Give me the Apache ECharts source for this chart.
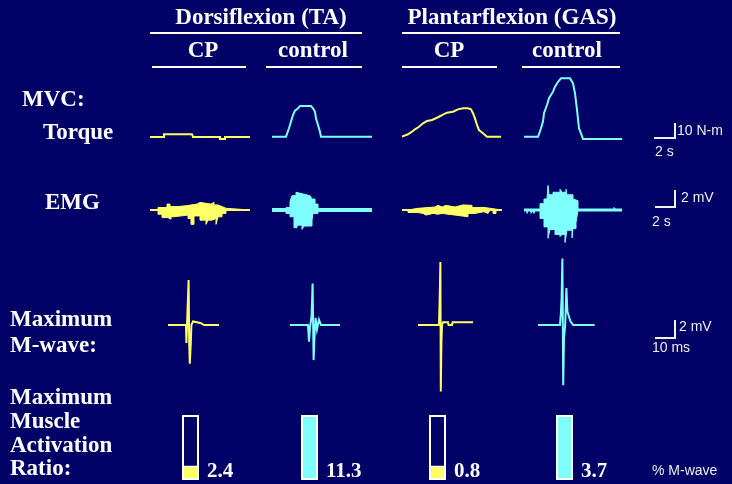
<!DOCTYPE html>
<html>
<head>
  <meta charset="utf-8">
  <title>MVC torque, EMG and M-wave</title>
  <script src="https://cdn.jsdelivr.net/npm/echarts@6/dist/echarts.min.js"></script>
  <style>html, body { margin: 0; padding: 0; background: #000066; }</style>
</head>
<body>
  <div id="main" style="width: 732px;height:484px;"></div>
  <script type="text/javascript">
    // column order: TA CP, TA control, GAS CP, GAS control
    var groups = ['Dorsiflexion (TA)', 'Plantarflexion (GAS)'];
    var subjects = ['CP', 'control', 'CP', 'control'];
    var colours = ['#ffff66', '#80ffff', '#ffff66', '#80ffff'];

    // MVC torque traces [s, N-m]
    var torqueTaCp = [[0,0.7],[1.4,0.7],[1.4,2.5],[4.2,2.5],[4.3,0.7],[7.0,0.7],[7.0,-0.7],[7.5,-0.7],[7.5,0.7],[10,0.7]];
    var torqueTaControl = [[0,0.9],[1.4,0.9],[1.5,2.7],[1.7,6.5],[1.9,10.9],[2.1,15.3],[2.3,18.2],[2.6,19.8],[2.8,21.3],[3.9,21.3],[4.1,19.8],[4.3,17.5],[4.4,13.1],[4.6,8.7],[4.8,4.2],[4.9,0.9],[10,0.9]];
    var torqueGasCp = [[0,0.9],[0.6,2.5],[1.0,4.2],[1.3,5.8],[1.7,7.5],[2.1,9.8],[2.5,11.3],[3.0,12.0],[3.5,13.5],[4.0,15.3],[4.5,16.9],[5.1,17.5],[5.6,19.1],[6.1,19.8],[6.6,19.8],[6.9,19.1],[7.1,16.5],[7.3,13.1],[7.5,8.7],[7.7,5.3],[8.1,3.1],[8.5,0.9],[9.9,0.9]];
    var torqueGasControl = [[0,0.9],[1.4,0.9],[1.5,2.5],[1.7,6.5],[1.9,10.9],[2.0,16.5],[2.3,22.0],[2.5,26.5],[2.9,30.9],[3.1,34.2],[3.4,37.5],[3.7,39.8],[4.6,39.8],[4.9,36.5],[5.1,29.8],[5.3,18.7],[5.5,6.5],[5.7,3.1],[5.9,-0.7],[9.8,-0.7]];

    // MVC EMG envelopes [s, mV], upper and lower edge
    var emgTaCpUp = [[0,0],[0.8,0.3],[1.7,0.7],[2.0,0.4],[2.7,0.5],[3.6,0.7],[4.7,0.9],[5.0,0.7],[6.1,0.9],[6.4,0.6],[6.8,0.4],[7.2,0.2],[7.6,0],[10,0]];
    var emgTaCpLow = [[0,0],[0.8,-0.5],[1.2,-0.9],[1.8,-1.1],[2.1,-0.8],[2.4,-0.6],[3.8,-1.0],[4.1,-1.7],[4.4,-0.7],[5.0,-1.2],[5.6,-1.7],[5.8,-1.2],[6.2,-1.0],[6.6,-1.7],[6.8,-0.8],[7.2,-0.4],[7.6,0],[10,0]];
    var emgTaControlUp = [[0,0],[1.4,0.3],[1.8,1.0],[2.0,1.7],[2.4,2.1],[2.6,1.9],[3.1,1.7],[3.8,1.9],[4.0,1.3],[4.3,0.7],[4.6,0],[10,0]];
    var emgTaControlLow = [[0,0],[1.4,-0.4],[1.8,-0.8],[2.2,-2.1],[2.5,-1.8],[3.0,-2.3],[3.2,-1.9],[4.0,-1.2],[4.1,-0.4],[4.6,0],[10,0]];
    var emgGasCpUp = [[0,0],[0.6,0.2],[1.6,0.35],[3.3,0.55],[3.6,0.35],[4.0,0.55],[4.4,0.35],[5.3,0.55],[5.5,0.6],[6.1,0.75],[6.3,0.55],[7.0,0.3],[8.2,0.2],[8.8,0],[10,0]];
    var emgGasCpLow = [[0,0],[0.6,-0.3],[1.6,-0.4],[2.1,-0.6],[2.4,-0.4],[3.1,-0.5],[3.6,-0.4],[4.0,-0.6],[5.3,-0.8],[6.6,-0.4],[7.3,-0.2],[8.2,-0.4],[8.6,-0.2],[8.8,0],[9.1,-0.4],[9.4,0],[10,0]];
    var emgGasControlUp = [[0,0],[1.6,0.75],[2.0,1.3],[2.3,1.5],[2.4,2.9],[2.5,1.8],[2.9,2.1],[3.6,2.45],[3.8,2.1],[4.2,2.45],[4.3,1.8],[4.9,1.3],[5.1,1.1],[5.4,0],[9.0,0.3],[9.2,0],[9.8,0]];
    var emgGasControlLow = [[0,0],[0.3,-0.4],[0.4,0],[0.7,-0.4],[0.8,0],[1.0,-0.4],[1.1,0],[1.6,-1.0],[2.0,-2.0],[2.4,-3.35],[2.6,-2.3],[3.1,-2.9],[3.6,-3.15],[3.8,-2.9],[4.1,-3.85],[4.3,-2.4],[4.8,-3.3],[4.9,-2.2],[5.2,-1.5],[5.4,0],[9.8,0]];

    // maximum M-wave [ms, mV]
    var mwaveTaCp = [[0,0],[9.0,0],[9.2,-2.0],[9.6,-1.8],[10.0,-2.2],[10.3,5.0],[10.6,-2.0],[10.9,-4.3],[11.4,-2.0],[11.7,0],[12.5,0.4],[13.5,0.5],[14.5,0.3],[15.5,0.5],[16.5,0.2],[18,0],[25.5,0]];
    var mwaveTaControl = [[0,0],[9.0,0],[9.5,-1.85],[10.0,-0.3],[10.8,1.0],[11.3,4.6],[11.8,-3.9],[12.3,-1.0],[12.8,0.8],[13.5,-0.5],[14.5,0.6],[15.5,0],[25,0]];
    var mwaveGasCp = [[0,0],[10.5,0],[10.8,2.5],[11.2,7.0],[11.4,-7.4],[11.7,-2.0],[12.0,0],[12.5,0.3],[15.0,0.3],[15.3,0],[17.0,0],[17.3,0.3],[27.5,0.3]];
    var mwaveGasControl = [[0,0],[11.0,0],[11.5,1.5],[11.8,3.0],[12.2,7.4],[12.6,-6.7],[13.0,-1.5],[13.6,0],[14.0,0],[14.2,4.1],[14.7,1.5],[15.7,1.5],[16.2,0.4],[17.2,0.4],[17.6,0],[28.3,0]];

    // maximum muscle activation ratio (% M-wave) and filled part of each box
    var ratioValues = [2.4, 11.3, 0.8, 3.7];
    var ratioFill = [0.22, 1, 0.22, 1];

    var torque = [torqueTaCp, torqueTaControl, torqueGasCp, torqueGasControl];
    var emgUp = [emgTaCpUp, emgTaControlUp, emgGasCpUp, emgGasControlUp];
    var emgLow = [emgTaCpLow, emgTaControlLow, emgGasCpLow, emgGasControlLow];
    var mwave = [mwaveTaCp, mwaveTaControl, mwaveGasCp, mwaveGasControl];
    var emgBaseWidth = [2, 4, 2, 3];

    var myChart = echarts.init(document.getElementById('main'));

    var grid = [], xAxis = [], yAxis = [], series = [];
    function panel(left, top, width, height, xr, yr) {
      var i = grid.length;
      grid.push({ left: left, top: top, width: width, height: height });
      if (xr) {
        xAxis.push({ type: 'value', gridIndex: i, min: xr[0], max: xr[1], show: false });
      } else {
        xAxis.push({ type: 'category', gridIndex: i, data: [''], show: false });
      }
      yAxis.push({ type: 'value', gridIndex: i, min: yr[0], max: yr[1], show: false });
      return i;
    }

    var traceLeft = [150, 272, 402, 524];
    var mwaveLeft = [168, 290, 418, 538];
    var boxLeft = [181, 300, 428, 555];

    for (var c = 0; c < 4; c++) {
      var col = colours[c];
      var g = panel(traceLeft[c], 72, 100, 72, [0, 10], [-4, 44]);
      series.push({
        type: 'line', xAxisIndex: g, yAxisIndex: g, data: torque[c],
        showSymbol: false, lineStyle: { color: col, width: 2, join: 'miter' }
      });

      g = panel(traceLeft[c], 172, 100, 76, [0, 10], [-4.5, 4.5]);
      [emgUp[c], emgLow[c]].forEach(function (d) {
        series.push({
          type: 'line', step: 'end', xAxisIndex: g, yAxisIndex: g, data: d,
          showSymbol: false, lineStyle: { color: col, width: 1, join: 'miter', cap: 'butt' },
          areaStyle: { color: col, opacity: 1, origin: 0 }
        });
      });
      // isoelectric line under the burst, over the same span as the record
      var up = emgUp[c];
      series.push({
        type: 'line', xAxisIndex: g, yAxisIndex: g,
        data: [[up[0][0], 0], [up[up.length - 1][0], 0]],
        showSymbol: false, lineStyle: { color: col, width: emgBaseWidth[c], cap: 'butt' }
      });

      g = panel(mwaveLeft[c], 253, 60, 144, [0, 30], [-8, 8]);
      series.push({
        type: 'line', xAxisIndex: g, yAxisIndex: g, data: mwave[c],
        showSymbol: false, lineStyle: { color: col, width: 2, join: 'miter' }
      });

      g = panel(boxLeft[c], 415, 19, 65, null, [0, 1]);
      series.push({
        type: 'bar', xAxisIndex: g, yAxisIndex: g, data: [ratioFill[c]],
        barWidth: 17, itemStyle: { color: col, borderColor: '#ffffff', borderWidth: 1.5 }
      });
      series.push({
        type: 'bar', xAxisIndex: g, yAxisIndex: g, data: [1], barWidth: 17, barGap: '-100%',
        itemStyle: { color: 'transparent', borderColor: '#ffffff', borderWidth: 2 },
        label: {
          show: true, position: ['100%', '100%'], offset: [8, 2],
          align: 'left', verticalAlign: 'bottom',
          color: '#ffffff', fontFamily: 'Liberation Serif', fontWeight: 'bold', fontSize: 21,
          formatter: (function (v) { return function () { return v.toFixed(1); }; })(ratioValues[c])
        }
      });
    }

    var serif = 'bold 23px "Liberation Serif"';
    var sans = '14px "Liberation Sans"';
    function txt(s, x, y, font, align, fill) {
      return { type: 'text', silent: true, style: {
        text: s, x: x, y: y, font: font, fill: fill || '#ffffff',
        textAlign: align || 'left', textVerticalAlign: 'middle' } };
    }
    function rule(x1, x2, y) {
      return { type: 'line', silent: true, shape: { x1: x1, y1: y, x2: x2, y2: y },
        style: { stroke: '#ffffff', lineWidth: 2 } };
    }
    function scaleBar(x1, x2, y, ytop) {
      return { type: 'polyline', silent: true, shape: { points: [[x1, y], [x2, y], [x2, ytop]] },
        style: { stroke: '#f0f0f0', lineWidth: 2, fill: null } };
    }

    var graphic = [
      txt(groups[0], 261, 18, serif, 'center'), rule(150, 362, 33),
      txt(groups[1], 512, 18, serif, 'center'), rule(402, 620, 33),
      txt(subjects[0], 203, 51, serif, 'center'), rule(152, 246, 67),
      txt(subjects[1], 313, 51, serif, 'center'), rule(266, 362, 67),
      txt(subjects[2], 449, 51, serif, 'center'), rule(402, 497, 67),
      txt(subjects[3], 567, 51, serif, 'center'), rule(522, 620, 67),

      txt('MVC:', 22, 100, serif), txt('Torque', 43, 133, serif), txt('EMG', 45, 203, serif),
      txt('Maximum', 10, 320, serif), txt('M-wave:', 10, 346, serif),
      txt('Maximum', 10, 398, serif), txt('Muscle', 10, 422, serif),
      txt('Activation', 10, 446, serif), txt('Ratio:', 10, 469, serif),

      scaleBar(654, 675, 138, 123), txt('10 N-m', 677, 131, sans, 'left', '#eeeeee'), txt('2 s', 655, 152, sans, 'left', '#eeeeee'),
      scaleBar(655, 675, 207, 190), txt('2 mV', 681, 198, sans, 'left', '#eeeeee'), txt('2 s', 652, 222, sans, 'left', '#eeeeee'),
      scaleBar(655, 675, 338, 320), txt('2 mV', 679, 327, sans, 'left', '#eeeeee'), txt('10 ms', 652, 348, sans, 'left', '#eeeeee'),
      txt('% M-wave', 652, 471, sans, 'left', '#eeeeee')
    ];

    var option = {
      animation: false,
      backgroundColor: '#000066',
      grid: grid,
      xAxis: xAxis,
      yAxis: yAxis,
      series: series,
      graphic: graphic
    };
    myChart.setOption(option);
  </script>
</body>
</html>
